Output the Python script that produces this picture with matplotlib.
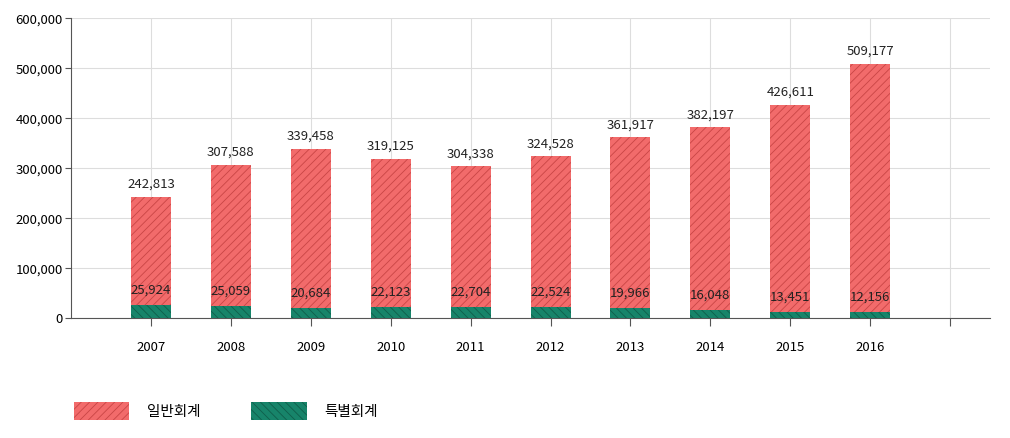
import matplotlib
matplotlib.use("Agg")
import matplotlib.pyplot as plt
from matplotlib.patches import Patch
from matplotlib import font_manager

names = {f.name for f in font_manager.fontManager.ttflist}
cjk = [n for n in ["Noto Sans CJK KR", "Noto Sans CJK JP", "Noto Sans CJK SC", "Noto Sans CJK TC"] if n in names]
plt.rcParams["font.family"] = cjk + ["DejaVu Sans"]
plt.rcParams["hatch.linewidth"] = 0.6

years = ["2007", "2008", "2009", "2010", "2011", "2012", "2013", "2014", "2015", "2016"]
totals = [242813, 307588, 339458, 319125, 304338, 324528, 361917, 382197, 426611, 509177]
special = [25924, 25059, 20684, 22123, 22704, 22524, 19966, 16048, 13451, 12156]
y_ticks = [0, 100000, 200000, 300000, 400000, 500000, 600000]

general = [t - s for t, s in zip(totals, special)]

fig = plt.figure(figsize=(10.1, 4.38), dpi=100)
ax = fig.add_axes([0.0703, 0.273, 0.91, 0.685])

x = list(range(1, len(years) + 1))
red, green = "#f26b6b", "#17846a"
ax.bar(x, special, width=0.5, color=green, edgecolor="#0f5e4b", hatch="\\\\\\\\", linewidth=0, zorder=3)
ax.bar(x, general, bottom=special, width=0.5, color=red, edgecolor="#c94545", hatch="////", linewidth=0, zorder=3)

for xi, t, s in zip(x, totals, special):
    ax.text(xi, t + 12000, f"{t:,}", ha="center", va="bottom", fontsize=9.5, color="#222")
    ax.text(xi, s + 30000, f"{s:,}", ha="center", va="center", fontsize=9.5, color="#222", zorder=4)

ax.set_xlim(0, 11.5)
ax.set_ylim(0, 600000)
ax.set_yticks(y_ticks)
ax.set_yticklabels([f"{v:,}" for v in y_ticks], fontsize=9.5)
ax.set_xticks(x + [11])
ax.set_xticklabels(years + [""], fontsize=9.5)
ax.tick_params(axis="x", length=6, pad=10, color="#555")
ax.tick_params(axis="y", length=4, pad=2, color="#555")
ax.grid(True, color="#dddddd", linewidth=0.8, zorder=0)
for s in ["top", "right"]:
    ax.spines[s].set_visible(False)
ax.spines["left"].set_color("#555")
ax.spines["bottom"].set_color("#555")

handles = [Patch(facecolor=red, edgecolor="#c94545", hatch="////", linewidth=0),
           Patch(facecolor=green, edgecolor="#0f5e4b", hatch="\\\\\\\\", linewidth=0)]
fig.legend(handles, ["일반회계", "특별회계"], loc="lower left", bbox_to_anchor=(0.06, 0.01),
           ncol=2, frameon=False, fontsize=10.5, handlelength=3.8, handleheight=1.6,
           columnspacing=3.5, handletextpad=1.2)

fig.savefig("out.png", dpi=100)
